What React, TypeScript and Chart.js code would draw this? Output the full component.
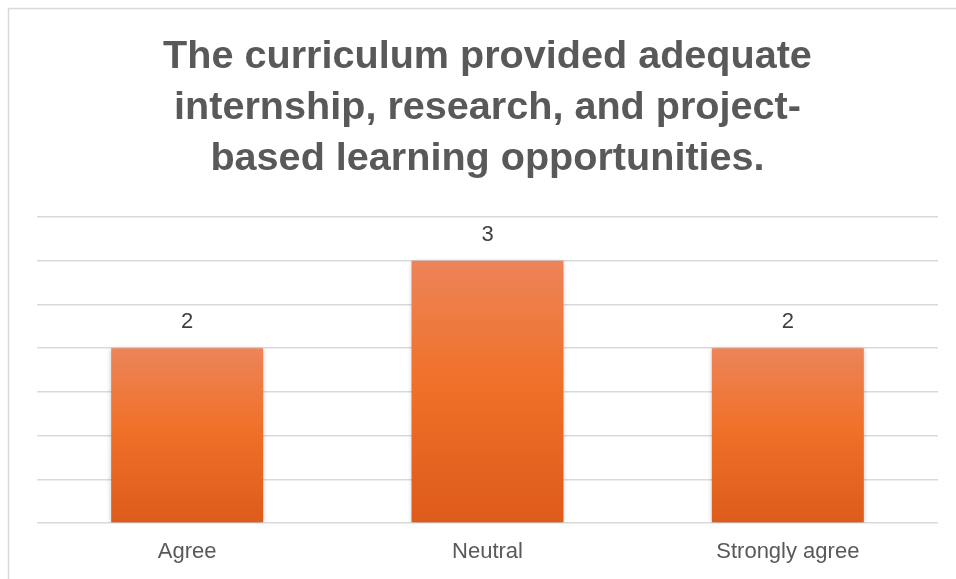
import React, { useEffect, useRef } from "react";
import { Chart, registerables } from "chart.js";

Chart.register(...registerables);

const titleLines = [
  "The curriculum provided adequate",
  "internship, research, and project-",
  "based learning opportunities.",
];
const categories = ["Agree", "Neutral", "Strongly agree"];
const counts = [2, 3, 2];
const yMax = 3.5;
const yStep = 0.5;

const FONT = "'Liberation Sans', Arial, sans-serif";

const framePlugin = {
  id: "frame",
  beforeDraw(chart: any) {
    const ctx = chart.ctx;
    ctx.save();
    ctx.fillStyle = "#ffffff";
    ctx.fillRect(0, 0, chart.width, chart.height);
    ctx.strokeStyle = "#d9d9d9";
    ctx.lineWidth = 1.5;
    ctx.strokeRect(8.5, 8.5, chart.width + 100, chart.height + 100);
    ctx.restore();
  },
};

const shadowPlugin = {
  id: "barShadow",
  beforeDatasetsDraw(chart: any) {
    const ctx = chart.ctx;
    ctx.save();
    ctx.shadowColor = "rgba(0,0,0,0.28)";
    ctx.shadowBlur = 5;
    ctx.shadowOffsetX = 0;
    ctx.shadowOffsetY = 1;
  },
  afterDatasetsDraw(chart: any) {
    const ctx = chart.ctx;
    ctx.restore();
    const meta = chart.getDatasetMeta(0);
    ctx.save();
    ctx.fillStyle = "#404040";
    ctx.font = `22px ${FONT}`;
    ctx.textAlign = "center";
    ctx.textBaseline = "middle";
    meta.data.forEach((bar: any, i: number) => {
      ctx.fillText(String(chart.data.datasets[0].data[i]), bar.x, bar.y - 26);
    });
    ctx.restore();
  },
};

export default function App() {
  const ref = useRef<HTMLCanvasElement>(null);
  useEffect(() => {
    document.body.style.margin = "0";
    const canvas = ref.current!;
    const chart = new Chart(canvas, {
      type: "bar",
      data: {
        labels: categories,
        datasets: [
          {
            data: counts,
            backgroundColor: (c: any) => {
              const ch = c.chart;
              const ys = ch.scales?.y;
              if (!ys || c.raw === undefined) return "#F07028";
              const top = ys.getPixelForValue(c.raw);
              const base = ys.getPixelForValue(0);
              if (!isFinite(top) || !isFinite(base) || top === base) return "#F07028";
              const g = ch.ctx.createLinearGradient(0, top, 0, base);
              g.addColorStop(0, "#ED8459");
              g.addColorStop(0.45, "#F07129");
              g.addColorStop(1, "#DE5B1A");
              return g;
            },
            borderWidth: 0,
            categoryPercentage: 1,
            barPercentage: 0.506,
          },
        ],
      },
      options: {
        animation: false,
        responsive: false,
        devicePixelRatio: 1,
        layout: { padding: { top: 0, left: 37, right: 18, bottom: -2 } },
        plugins: {
          legend: { display: false },
          tooltip: { enabled: false },
          title: {
            display: true,
            text: titleLines,
            color: "#595959",
            font: { family: FONT, size: 39.6, weight: "bold", lineHeight: 51 / 39.6 },
            padding: { top: 32, bottom: 32 },
          },
        },
        scales: {
          x: {
            grid: { display: false, drawTicks: false },
            border: { display: false },
            ticks: {
              color: "#595959",
              font: { family: FONT, size: 22, lineHeight: 1 },
              padding: 18,
            },
          },
          y: {
            min: 0,
            max: yMax,
            grid: { color: "#d9d9d9", lineWidth: 1.5, drawTicks: false },
            border: { display: false },
            ticks: { display: false, stepSize: yStep },
          },
        },
      },
      plugins: [framePlugin, shadowPlugin],
    });
    return () => chart.destroy();
  }, []);
  return (
    <div style={{ width: 956, height: 579 }}>
      <canvas ref={ref} width={956} height={579} />
    </div>
  );
}
